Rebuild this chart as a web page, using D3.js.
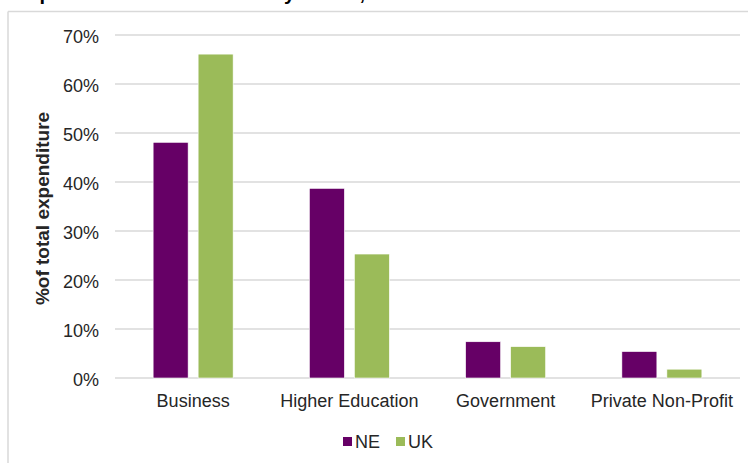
<!DOCTYPE html>
<html>
<head>
<meta charset="utf-8">
<script src="https://cdn.jsdelivr.net/npm/d3@7"></script>
<style>
  html, body { margin: 0; padding: 0; background: #fff; }
  svg { display: block; font-family: "Liberation Sans", Arial, sans-serif; }
</style>
</head>
<body>
<svg id="chart" width="748" height="463"></svg>
<script>
const categories = ["Business", "Higher Education", "Government", "Private Non-Profit"];
const seriesNames = ["NE", "UK"];
const neValues = [48.1, 38.7, 7.4, 5.4];
const ukValues = [66.1, 25.3, 6.4, 1.8];
const yTicks = [0, 10, 20, 30, 40, 50, 60, 70];
const colors = { NE: "#660066", UK: "#9bbb59" };
const titleText = "Expenditure on R&D in NE by sector, 2011";
const yAxisTitle = "%of total expenditure";

const svg = d3.select("#chart");
const W = 748, H = 463;
const plot = { left: 115, right: 740, top: 35, bottom: 378 };

// chart frame
svg.append("line").attr("x1", 8).attr("x2", W).attr("y1", 11.5).attr("y2", 11.5)
  .attr("stroke", "#d9d9d9").attr("stroke-width", 1.5);
svg.append("line").attr("x1", 8).attr("x2", 8).attr("y1", 11.5).attr("y2", H)
  .attr("stroke", "#d9d9d9").attr("stroke-width", 1.5);

// title (cut off at the top in the reference: only descenders show)
svg.append("text").attr("x", 15).attr("y", 0)
  .attr("font-size", 20).attr("font-weight", "bold").attr("fill", "#000")
  .text(titleText);

const y = d3.scaleLinear().domain([0, 70]).range([plot.bottom, plot.top]);
const x0 = d3.scaleBand().domain(categories).range([plot.left, plot.right]).padding(0);
const bw = x0.bandwidth();
const inset = bw * 0.244;
const x1 = d3.scaleBand().domain(seriesNames).range([inset, bw - inset]).paddingInner(10 / 45).paddingOuter(0);

// gridlines
svg.append("g").selectAll("line").data(yTicks).join("line")
  .attr("x1", plot.left).attr("x2", plot.right)
  .attr("y1", d => y(d)).attr("y2", d => y(d))
  .attr("stroke", "#d9d9d9").attr("stroke-width", 1.5);

// y axis labels
const yAxis = d3.axisLeft(y).tickValues(yTicks).tickFormat(d => d + "%").tickSize(0).tickPadding(0);
const yg = svg.append("g").attr("transform", "translate(99,0)").call(yAxis);
yg.select(".domain").remove();
yg.selectAll("text").attr("font-size", 18).attr("fill", "#262626")
  .attr("font-family", "'Liberation Sans', Arial, sans-serif").attr("dy", "0.4em");

// y axis title
svg.append("text")
  .attr("transform", `translate(49, ${(plot.top + plot.bottom) / 2 + 2}) rotate(-90)`)
  .attr("text-anchor", "middle").attr("font-size", 19).attr("font-weight", "bold")
  .attr("fill", "#262626").text(yAxisTitle);

// bars
const rows = categories.map((c, i) => ({ cat: c, NE: neValues[i], UK: ukValues[i] }));
const groups = svg.append("g").selectAll("g").data(rows).join("g")
  .attr("transform", d => `translate(${x0(d.cat)},0)`);
groups.selectAll("rect").data(d => seriesNames.map(s => ({ s, v: d[s] }))).join("rect")
  .attr("x", d => x1(d.s)).attr("width", x1.bandwidth())
  .attr("y", d => y(d.v)).attr("height", d => y(0) - y(d.v))
  .attr("fill", d => colors[d.s]).attr("stroke", "#ffffff").attr("stroke-width", 0.6);

// x axis labels
const xAxis = d3.axisBottom(x0).tickSize(0).tickPadding(0);
const xg = svg.append("g").attr("transform", `translate(0,${plot.bottom})`).call(xAxis);
xg.select(".domain").remove();
xg.selectAll("text").attr("font-size", 18).attr("fill", "#262626")
  .attr("font-family", "'Liberation Sans', Arial, sans-serif").attr("dy", null).attr("y", 29);

// legend
const lg = svg.append("g");
const legendX = d3.scalePoint().domain(seriesNames).range([343, 396]);
seriesNames.forEach(s => {
  const lx = legendX(s);
  lg.append("rect").attr("x", lx).attr("y", 437).attr("width", 9).attr("height", 9).attr("fill", colors[s]);
  lg.append("text").attr("x", lx + 12).attr("y", 448).attr("font-size", 18).attr("fill", "#262626").text(s);
});
</script>
</body>
</html>
